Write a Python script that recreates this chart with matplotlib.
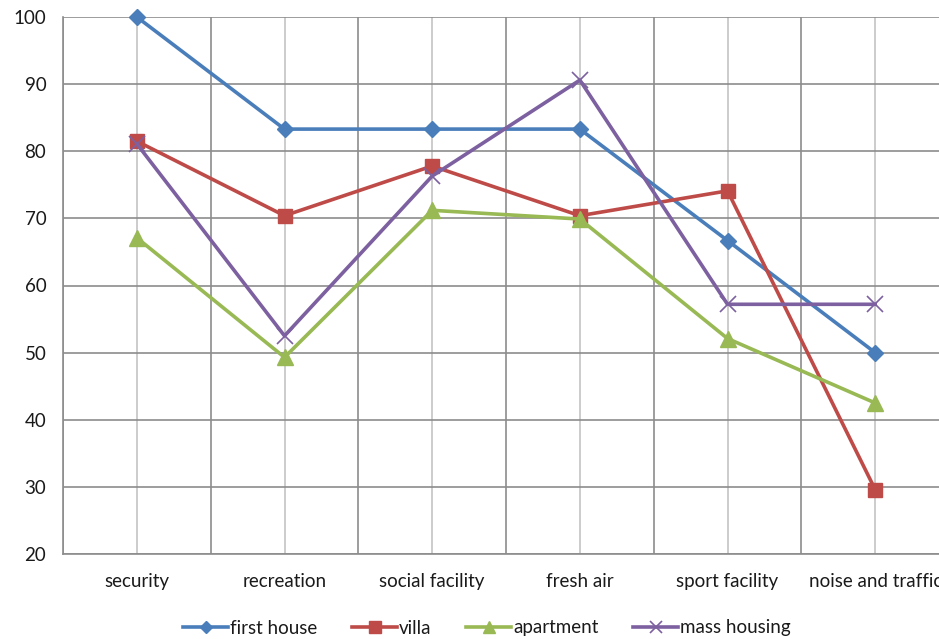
import matplotlib
matplotlib.use('Agg')
import matplotlib.pyplot as plt
import numpy as np

# scores per housing type for each criterion
categories = ['security', 'recreation', 'social facility', 'fresh air', 'sport facility', 'noise and traffic']
first_house = [100, 83.3, 83.3, 83.3, 66.7, 50.0]
villa = [81.5, 70.4, 77.8, 70.4, 74.1, 29.6]
apartment = [67.1, 49.3, 71.2, 69.9, 52.1, 42.5]
mass_housing = [81.1, 52.5, 76.3, 90.6, 57.2, 57.2]
yticks = [20, 30, 40, 50, 60, 70, 80, 90, 100]

plt.rcParams['font.family'] = ['Lato', 'DejaVu Sans']
FS = 13.5

fig = plt.figure(figsize=(9.39, 6.39), dpi=100)
# axis runs off the right edge on purpose so the last label gets cut
ax = fig.add_axes([63/939, 1 - 554/639, (949 - 63)/939, (554 - 17)/639])

x = np.arange(len(categories))
series = [
    ('first house', first_house, '#4a7ebb', 'D', 8),
    ('villa', villa, '#be4b48', 's', 10),
    ('apartment', apartment, '#98b954', '^', 11),
    ('mass housing', mass_housing, '#7d60a0', 'x', 11),
]
for name, vals, col, mk, ms in series:
    ax.plot(x, vals, color=col, lw=2.6, marker=mk, ms=ms, mec=col, mfc=col,
            mew=1.2 if mk == 'x' else 1, label=name, zorder=3, clip_on=False)

ax.set_xlim(-0.5, len(categories) - 0.5)
ax.set_ylim(20, 100)
ax.set_yticks(yticks)
ax.set_yticklabels([str(v) for v in yticks], fontsize=FS, color='#1a1a1a')

# darker lines between categories, lighter ones through each category
ax.set_xticks(np.arange(-0.5, len(categories), 1.0))
ax.set_xticklabels([])
ax.set_xticks(x, minor=True)
ax.set_xticklabels(categories, minor=True, fontsize=FS, color='#1a1a1a')
ax.tick_params(axis='x', which='both', length=0, pad=14)
ax.tick_params(axis='y', length=0, pad=12)
ax.grid(axis='y', color='#8c8c8c', lw=1.2)
ax.grid(axis='x', which='major', color='#8c8c8c', lw=1.2)
ax.grid(axis='x', which='minor', color='#c4c4c4', lw=1.2)
ax.set_axisbelow(True)

for s in ['top', 'right']:
    ax.spines[s].set_visible(False)
for s in ['left', 'bottom']:
    ax.spines[s].set_color('#8c8c8c')
    ax.spines[s].set_linewidth(1.2)

leg = fig.legend(loc='center', bbox_to_anchor=(487/939, 1 - 628/639), ncol=4,
                 frameon=False, fontsize=FS, handlelength=2.4, handletextpad=0.1,
                 columnspacing=1.85, markerscale=0.8)
for t in leg.get_texts():
    t.set_color('#1a1a1a')

fig.savefig('out.png', dpi=100)
